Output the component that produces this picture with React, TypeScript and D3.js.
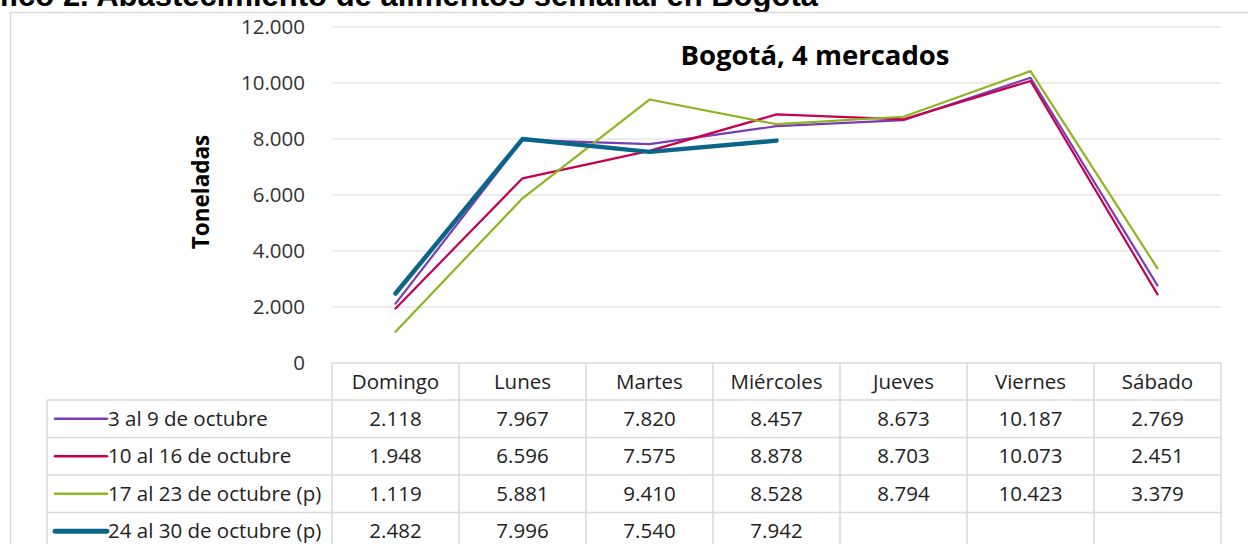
import { useRef, useEffect } from 'react';
import * as d3 from 'd3';

const categories = ['Domingo', 'Lunes', 'Martes', 'Miércoles', 'Jueves', 'Viernes', 'Sábado'];
const seriesNames = ['3 al 9 de octubre', '10 al 16 de octubre', '17 al 23 de octubre (p)', '24 al 30 de octubre (p)'];
const week1 = [2118, 7967, 7820, 8457, 8673, 10187, 2769];
const week2 = [1948, 6596, 7575, 8878, 8703, 10073, 2451];
const week3 = [1119, 5881, 9410, 8528, 8794, 10423, 3379];
const week4 = [2482, 7996, 7540, 7942];
const yTicks = [0, 2000, 4000, 6000, 8000, 10000, 12000];
const colors = ['#7a3bb4', '#c6004f', '#8db51f', '#0a6689'];
const widths = [2.2, 2.2, 2.2, 4.5];

const fmt = d3.formatLocale({ decimal: ',', thousands: '.', grouping: [3], currency: ['$', ''] }).format(',');

const W = 1248;
const H = 544;
const font = '"Open Sans", "Noto Sans", sans-serif';
const fs = 20.5;

export default function App() {
  const svgRef = useRef<SVGSVGElement | null>(null);

  useEffect(() => {
    if (!svgRef.current) return;
    const svg = d3.select(svgRef.current);
    svg.selectAll('*').remove();

    const data = [week1, week2, week3, week4];
    const plotLeft = 332;
    const plotRight = 1221;
    const x = d3.scaleBand().domain(categories).range([plotLeft, plotRight]);
    const y = d3.scaleLinear().domain([0, 12000]).range([363, 27]);
    const grid = '#d9d9d9';

    // page title (clipped at top)
    svg.append('text')
      .attr('x', 818).attr('y', 6)
      .attr('text-anchor', 'end')
      .attr('font-family', 'Liberation Sans, Arial, sans-serif')
      .attr('font-weight', 'bold')
      .attr('font-size', 31)
      .attr('fill', '#000')
      .text('Gráfico 2. Abastecimiento de alimentos semanal en Bogotá');

    // chart border
    svg.append('rect')
      .attr('x', 10.5).attr('y', 12.5)
      .attr('width', W + 20).attr('height', H)
      .attr('fill', 'none')
      .attr('stroke', grid)
      .attr('stroke-width', 1.5);

    // gridlines
    svg.append('g').selectAll('line')
      .data(yTicks.filter(d => d > 0))
      .join('line')
      .attr('x1', plotLeft).attr('x2', plotRight)
      .attr('y1', d => y(d)).attr('y2', d => y(d))
      .attr('stroke', grid).attr('stroke-width', 1.2);

    // y labels
    svg.append('g').selectAll('text')
      .data(yTicks)
      .join('text')
      .attr('x', 305).attr('y', d => y(d))
      .attr('dy', '0.35em')
      .attr('text-anchor', 'end')
      .attr('font-family', font).attr('font-size', fs)
      .attr('fill', '#333')
      .text(d => fmt(d));

    svg.append('text')
      .attr('transform', 'translate(209,192) rotate(-90)')
      .attr('text-anchor', 'middle')
      .attr('font-family', font).attr('font-weight', 'bold').attr('font-size', 22.5)
      .attr('fill', '#000')
      .text('Toneladas');

    svg.append('text')
      .attr('x', 815).attr('y', 65)
      .attr('text-anchor', 'middle')
      .attr('font-family', font).attr('font-weight', 'bold').attr('font-size', 27.5)
      .attr('fill', '#000')
      .text('Bogotá, 4 mercados');

    // data table
    const rowTops = [363, 400, 437.5, 475, 512.5, 550];
    const legLeft = 47;
    const tg = svg.append('g').attr('stroke', grid).attr('stroke-width', 1.5);
    rowTops.forEach((t, i) => {
      tg.append('line')
        .attr('x1', i === 0 ? plotLeft : legLeft).attr('x2', plotRight)
        .attr('y1', t).attr('y2', t);
    });
    tg.append('line').attr('x1', legLeft).attr('x2', legLeft).attr('y1', 400).attr('y2', H);
    const bounds = categories.map(c => x(c) as number).concat([plotRight]);
    bounds.forEach(b => {
      tg.append('line').attr('x1', b).attr('x2', b).attr('y1', 363).attr('y2', H);
    });

    const cx = (c: string) => (x(c) as number) + x.bandwidth() / 2;

    svg.append('g').selectAll('text')
      .data(categories)
      .join('text')
      .attr('x', d => cx(d)).attr('y', (rowTops[0] + rowTops[1]) / 2)
      .attr('dy', '0.35em')
      .attr('text-anchor', 'middle')
      .attr('font-family', font).attr('font-size', fs).attr('fill', '#222')
      .text(d => d);

    data.forEach((vals, si) => {
      const mid = (rowTops[si + 1] + rowTops[si + 2]) / 2;
      const g = svg.append('g');
      g.append('line')
        .attr('x1', 55).attr('x2', 107)
        .attr('y1', mid).attr('y2', mid)
        .attr('stroke', colors[si]).attr('stroke-width', widths[si] + 0.3)
        .attr('stroke-linecap', 'round');
      g.append('text')
        .attr('x', 108).attr('y', mid).attr('dy', '0.35em')
        .attr('font-family', font).attr('font-size', fs).attr('fill', '#222')
        .text(seriesNames[si]);
      g.selectAll('text.v')
        .data(vals)
        .join('text')
        .attr('class', 'v')
        .attr('x', (d, i) => cx(categories[i])).attr('y', mid).attr('dy', '0.35em')
        .attr('text-anchor', 'middle')
        .attr('font-family', font).attr('font-size', fs).attr('fill', '#222')
        .text(d => fmt(d));
    });

    // series lines
    const line = d3.line<number>()
      .x((d, i) => cx(categories[i]))
      .y(d => y(d));

    data.forEach((vals, si) => {
      svg.append('path')
        .datum(vals)
        .attr('fill', 'none')
        .attr('stroke', colors[si])
        .attr('stroke-width', widths[si])
        .attr('stroke-linejoin', 'round')
        .attr('stroke-linecap', 'round')
        .attr('d', line);
    });
  }, []);

  return (
    <svg
      ref={svgRef}
      width={W}
      height={H}
      style={{ position: 'absolute', left: 0, top: 0, background: '#fff' }}
    />
  );
}
